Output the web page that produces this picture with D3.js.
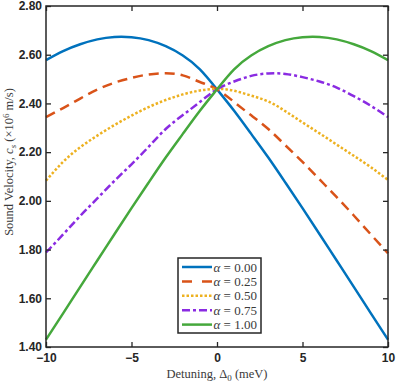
<!DOCTYPE html>
<html><head><meta charset="utf-8">
<script src="https://cdn.jsdelivr.net/npm/d3@7"></script>
<style>body{margin:0;background:#fff}svg{display:block}</style>
</head><body>
<svg id="c" width="397" height="383"></svg>
<script>
const detuning = [-10,-9,-8,-7,-6,-5,-4,-3,-2,-1,0,1,2,3,4,5,6,7,8,9,10];
const alpha000 = [2.578,2.615,2.643,2.663,2.673,2.672,2.660,2.635,2.597,2.540,2.458,2.370,2.275,2.178,2.075,1.970,1.863,1.755,1.647,1.538,1.430];
const alpha025 = [2.344,2.381,2.420,2.457,2.485,2.505,2.519,2.524,2.515,2.488,2.458,2.406,2.351,2.295,2.228,2.160,2.088,2.015,1.940,1.862,1.785];
const alpha050 = [2.083,2.160,2.220,2.268,2.311,2.350,2.385,2.414,2.437,2.453,2.460,2.452,2.432,2.408,2.368,2.322,2.277,2.231,2.185,2.138,2.086];
const alpha075 = [1.788,1.862,1.938,2.010,2.082,2.150,2.222,2.295,2.352,2.406,2.458,2.490,2.513,2.523,2.521,2.508,2.490,2.465,2.430,2.390,2.344];
const alpha100 = [1.430,1.538,1.647,1.755,1.863,1.970,2.075,2.178,2.275,2.370,2.458,2.540,2.597,2.635,2.660,2.672,2.673,2.663,2.643,2.615,2.578];
const seriesLabels = ["0.00","0.25","0.50","0.75","1.00"];
const xTicks = [-10,-5,0,5,10];
const yTicks = [1.40,1.60,1.80,2.00,2.20,2.40,2.60,2.80];

const series = [alpha000, alpha025, alpha050, alpha075, alpha100];
const colors = ["#0072bd","#d95319","#edb120","#8a2be2","#45a83c"];
const dashes = [null,"10,6","2.5,2","8,3,3,3",null];
const legDashes = [null,"10,10","2.5,2","8,3,3,3",null];

const svg = d3.select("#c");
const L=46,R=388,T=6,B=347;
const x = d3.scaleLinear().domain([-10,10]).range([L,R]);
const y = d3.scaleLinear().domain([1.4,2.8]).range([B,T]);

const line = d3.line().x((d,i)=>x(detuning[i])).y(d=>y(d)).curve(d3.curveNatural);
series.forEach((s,k)=>{
  svg.append("path").attr("d",line(s)).attr("fill","none")
    .attr("stroke",colors[k]).attr("stroke-width",2.5)
    .attr("stroke-dasharray",dashes[k]);
});

const tickFont = "bold 12px 'Liberation Sans', Arial, sans-serif";
const gB = svg.append("g").attr("transform",`translate(0,${B})`)
  .call(d3.axisBottom(x).tickValues(xTicks).tickSize(-5).tickPadding(6).tickFormat(d3.format("d")));
const gT = svg.append("g").attr("transform",`translate(0,${T})`)
  .call(d3.axisTop(x).tickValues(xTicks).tickSize(-5).tickFormat(""));
const gL = svg.append("g").attr("transform",`translate(${L},0)`)
  .call(d3.axisLeft(y).tickValues(yTicks).tickSize(-5).tickPadding(4).tickFormat(d3.format(".2f")));
const gR = svg.append("g").attr("transform",`translate(${R},0)`)
  .call(d3.axisRight(y).tickValues(yTicks).tickSize(-5).tickFormat(""));
[gB,gT,gL,gR].forEach(g=>{
  g.select(".domain").remove();
  g.selectAll("line").attr("stroke","#262626").attr("stroke-width",1.3);
  g.selectAll("text").style("font",tickFont).attr("fill","#262626");
});
gB.selectAll("text").attr("dy","0.71em");
svg.append("rect").attr("x",L).attr("y",T).attr("width",R-L).attr("height",B-T)
  .attr("fill","none").attr("stroke","#262626").attr("stroke-width",1.5);

const serif = "'Liberation Serif','DejaVu Serif',serif";
const xl = svg.append("text").attr("x",217).attr("y",378).attr("text-anchor","middle")
  .style("font-family",serif).style("font-size","12.5px").attr("fill","#3a3a3a");
xl.append("tspan").text("Detuning, Δ");
xl.append("tspan").text("0").style("font-size","9px").attr("dy",2.5);
xl.append("tspan").text(" (meV)").attr("dy",-2.5);

const yl = svg.append("text").attr("transform","translate(13,162) rotate(-90)").attr("text-anchor","middle")
  .style("font-family",serif).style("font-size","12.5px").attr("fill","#3a3a3a");
yl.append("tspan").text("Sound Velocity, ");
yl.append("tspan").text("c").style("font-style","italic");
yl.append("tspan").text("s").style("font-style","italic").style("font-size","9px").attr("dy",2.5);
yl.append("tspan").text(" (×10").attr("dy",-2.5);
yl.append("tspan").text("6").style("font-size","9px").attr("dy",-4.5);
yl.append("tspan").text(" m/s)").attr("dy",4.5);

const lg = svg.append("g");
lg.append("rect").attr("x",178).attr("y",258).attr("width",83).attr("height",75)
  .attr("fill","#fff").attr("stroke","#262626").attr("stroke-width",1.5);
seriesLabels.forEach((lab,k)=>{
  const yy = 267 + k*14.4;
  lg.append("line").attr("x1",182).attr("x2",212).attr("y1",yy).attr("y2",yy)
    .attr("stroke",colors[k]).attr("stroke-width",2.5).attr("stroke-dasharray",legDashes[k]);
  const t = lg.append("text").attr("x",213.5).attr("y",yy+4.5)
    .style("font-family",serif).style("font-size","13px").attr("fill","#3a3a3a");
  t.append("tspan").text("α").style("font-style","italic");
  t.append("tspan").text(" = " + lab);
});
</script>
</body></html>
